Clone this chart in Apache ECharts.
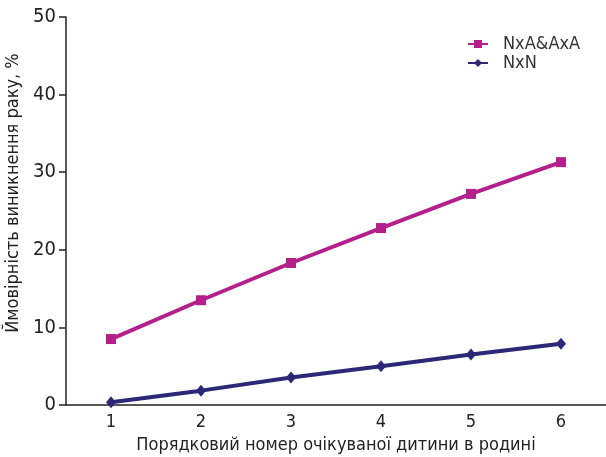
<!DOCTYPE html>
<html><head><meta charset="utf-8">
<script src="https://cdn.jsdelivr.net/npm/echarts@6/dist/echarts.min.js"></script>
<style>html,body{margin:0;padding:0;background:#fff;overflow:hidden}#c{width:606px;height:457px}</style>
</head><body><div id="c"></div>
<script>
var categories = ['1','2','3','4','5','6'];
var seriesNames = ['NxA&AxA','NxN'];
var nxaValues = [8.5, 13.5, 18.3, 22.8, 27.2, 31.3];
var nxnValues = [0.35, 1.85, 3.55, 5.0, 6.5, 7.9];
var yTicks = [0, 10, 20, 30, 40, 50];

var FONT = '"DejaVu Sans Condensed", "Liberation Sans Narrow", sans-serif';
var chart = echarts.init(document.getElementById('c'));
chart.setOption({
  animation: false,
  textStyle: {fontFamily: FONT},
  grid: {left: 66, right: 0, top: 17, bottom: 52, containLabel: false, outerBoundsMode: 'none'},
  legend: {
    left: 462, top: 30, orient: 'vertical', itemGap: 1, itemWidth: 20, itemHeight: 10,
    textStyle: {fontFamily: FONT, fontSize: 18, color: '#333', padding: [0, 0, 0, 10]},
    data: seriesNames
  },
  xAxis: {
    type: 'category', data: categories, boundaryGap: true,
    name: 'Порядковий номер очікуваної дитини в родині',
    nameLocation: 'middle', nameGap: 29,
    nameTextStyle: {fontFamily: FONT, fontSize: 18, color: '#222'},
    axisLine: {lineStyle: {color: '#222', width: 1.5}},
    axisTick: {show: false},
    axisLabel: {fontFamily: FONT, fontSize: 18, color: '#222', margin: 8}
  },
  yAxis: {
    type: 'value', min: 0, max: 50, interval: 10,
    name: 'Ймовірність виникнення раку, %',
    nameLocation: 'middle', nameGap: 33,
    nameTextStyle: {fontFamily: FONT, fontSize: 18, color: '#222', padding: [0, 0, 0, 36]},
    axisLine: {show: true, lineStyle: {color: '#222', width: 1.5}},
    axisTick: {show: true, length: 7, lineStyle: {color: '#222', width: 1.5}},
    splitLine: {show: false},
    axisLabel: {fontFamily: FONT, fontSize: 20, color: '#222', margin: 10,
      formatter: function (v) { return yTicks.indexOf(v) >= 0 ? String(v) : ''; }}
  },
  series: [
    {name: seriesNames[0], type: 'line', data: nxaValues, symbol: 'rect', symbolSize: 10,
     lineStyle: {color: '#B51F8C', width: 4}, itemStyle: {color: '#B51F8C'}},
    {name: seriesNames[1], type: 'line', data: nxnValues, symbol: 'diamond', symbolSize: [10, 12],
     lineStyle: {color: '#2A2877', width: 4}, itemStyle: {color: '#2A2877'}}
  ]
});
</script></body></html>
